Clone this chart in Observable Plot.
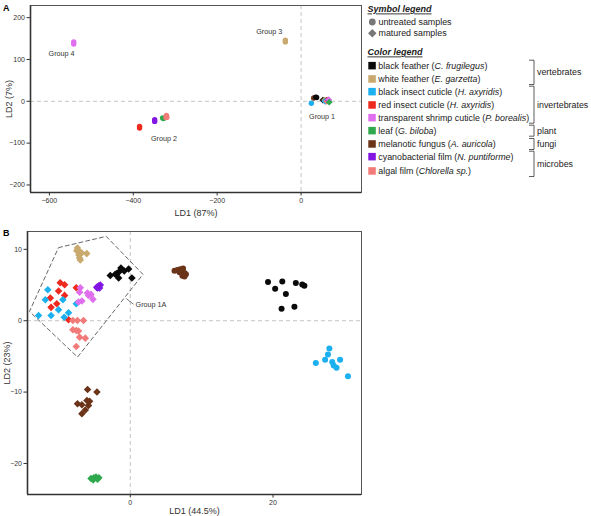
<!DOCTYPE html>
<html><head><meta charset="utf-8">
<script src="https://cdn.jsdelivr.net/npm/d3@7"></script>
<script src="https://cdn.jsdelivr.net/npm/@observablehq/plot@0.6"></script>
<style>
body{margin:0;background:#fff;font-family:"Liberation Sans",Arial,sans-serif;}
#wrap{position:relative;width:591px;height:516px;overflow:hidden;}
#wrap > svg{position:absolute;}
</style></head><body><div id="wrap"></div>
<script>
// ---------- categories ----------
const speciesNames = ["black feather","white feather","black insect cuticle","red insect cuticle",
  "transparent shrimp cuticle","leaf","melanotic fungus","cyanobacterial film","algal film"];
const speciesLatin = ["C. frugilegus","E. garzetta","H. axyridis","H. axyridis","P. borealis",
  "G. biloba","A. auricola","N. puntiforme","Chlorella sp."];
const speciesColors = ["#0a0a0a","#c9a96e","#1cb0ee","#ee2a1e","#df6fee","#2fa84e","#6b3418","#8316e2","#f27a78"];
const groupNames = ["vertebrates","invertebrates","plant","fungi","microbes"];
const groupFirst = [0,2,5,6,7];
const groupLast  = [1,4,5,6,8];
const treatments = ["untreated","matured"];
const treatmentLabels = ["untreated samples","matured samples"];

// ---------- panel A (LD1 87 %, LD2 7 %) ----------
const aSpecies = [
  "transparent shrimp cuticle","transparent shrimp cuticle",
  "white feather","white feather",
  "red insect cuticle","red insect cuticle",
  "cyanobacterial film","cyanobacterial film",
  "leaf","leaf",
  "algal film","algal film","algal film",
  "black insect cuticle","melanotic fungus","black feather","black feather",
  "black feather","white feather","white feather","melanotic fungus","red insect cuticle","black insect cuticle",
  "algal film","cyanobacterial film","transparent shrimp cuticle","leaf"];
const aTreat = [
  "untreated","untreated","untreated","untreated","untreated","untreated","untreated","untreated",
  "untreated","untreated","untreated","untreated","untreated",
  "untreated","untreated","untreated","untreated",
  "matured","matured","matured","matured","matured","matured","matured","matured","matured","matured"];
const aLD1 = [-542,-542, -37.5,-37.5, -385,-385, -349,-349, -330,-328, -321,-320,-322,
  24.5,30,35,37, 52,56,58,60,62,57,61,65,66,67];
const aLD2 = [137,142, 142,146, -60,-64, -44,-48, -40,-41, -34,-38,-39,
  -4.5,8,10,9, 3,3,1,2,3,0,0,3,4,-2];
const aGroupLabel = ["Group 4","Group 3","Group 2","Group 1"];
const aGroupX = [-571,-76,-327,50];
const aGroupY = [114,167,-89,-36];
const aXTicks = [-600,-400,-200,0];
const aYTicks = [-200,-100,0,100,200];
const aXDomain = [-645,144];
const aYDomain = [-218,229];

// ---------- panel B (LD1 44.5 %, LD2 23 %) ----------
const bSpecies = [
  ...Array(9).fill("black feather"),
  ...Array(9).fill("black insect cuticle"),
  ...Array(9).fill("melanotic fungus"),
  ...Array(8).fill("white feather"),
  ...Array(9).fill("black feather"),
  ...Array(6).fill("cyanobacterial film"),
  ...Array(9).fill("red insect cuticle"),
  ...Array(9).fill("black insect cuticle"),
  ...Array(8).fill("transparent shrimp cuticle"),
  ...Array(9).fill("algal film"),
  ...Array(9).fill("melanotic fungus"),
  ...Array(6).fill("leaf")];
const bTreat = [...Array(27).fill("untreated"), ...Array(73).fill("matured")];
const bLD1 = [
  19.3,21.3,23.2,24.1,24.4,20.3,21.8,21.2,23.0,
  27.9,27.7,27.3,26.0,28.3,28.5,28.9,29.4,30.5,
  6.2,6.6,7.0,7.4,7.6,7.8,7.3,6.9,7.6,
  -7.4,-7.0,-7.2,-6.8,-6.1,-7.1,-7.0,-7.5,
  -2.8,-1.87,-1.63,-1.31,-1.63,-0.84,-0.23,0.23,-2.1,
  -4.6,-4.4,-4.2,-4.5,-4.3,-4.7,
  -9.82,-9.2,-10.05,-9.2,-11.2,-10.3,-11.1,-7.57,-8.65,
  -11.55,-11.9,-9.44,-10.05,-11.1,-12.85,-9.26,-8.65,-7.57,
  -7.0,-6.0,-5.5,-5.84,-7.25,-6.78,-5.23,-7.1,
  -8.04,-7.4,-6.55,-8.04,-7.57,-7.25,-7.1,-6.3,-7.57,
  -5.98,-4.67,-6.07,-5.7,-7.39,-6.78,-5.85,-6.3,-6.78,
  -5.5,-5.1,-4.8,-4.4,-5.2,-4.6];
const bLD2 = [
  5.41,5.5,5.27,5.09,4.9,4.49,3.73,1.68,1.96,
  -3.88,-4.73,-5.47,-5.94,-5.8,-6.27,-6.6,-5.47,-7.77,
  7.0,7.1,7.2,7.3,6.7,6.5,6.3,6.8,6.2,
  10.2,9.6,9.2,9.5,9.4,8.8,8.5,9.8,
  6.35,6.6,6.8,7.4,6.0,6.96,7.25,5.98,6.5,
  4.6,4.9,5.0,4.8,4.6,4.7,
  5.33,5.05,4.15,3.55,3.17,2.38,1.87,4.63,0.14,
  4.35,2.94,2.94,1.54,0.74,0.74,0.5,1.12,2.38,
  4.63,3.87,3.69,3.55,2.61,2.75,2.99,4.0,
  0.04,0.04,0.04,-1.27,-1.36,-1.45,-2.3,-2.44,-3.6,
  -9.64,-10.0,-11.18,-11.27,-11.64,-11.79,-11.88,-12.5,-13.05,
  -22.1,-22.0,-21.9,-22.0,-22.3,-22.2];
const hullLD1 = [-10.06,-3.37,1.78,-7.39,-14.12];
const hullLD2 = [10.24,11.82,6.49,-5.1,1.3];
const leaderLD1 = [-0.56,0.46];
const leaderLD2 = [3.1,2.3];
const bLabel = ["Group 1A"];
const bLabelX = [0.75];
const bLabelY = [2.2];
const bXTicks = [0,20];
const bYTicks = [-20,-10,0,10];
const bXDomain = [-14.4,32.4];
const bYDomain = [-24.35,12.5];

const FONT = "'Liberation Sans', Arial, Helvetica, sans-serif";
const wrap = document.getElementById("wrap");

// square diamond (rotated square) symbol
const squareDiamond = {
  draw(context, size){
    const r = Math.sqrt(size/2);
    context.moveTo(0,-r); context.lineTo(r,0); context.lineTo(0,r); context.lineTo(-r,0); context.closePath();
  }
};

function panel(o){
  const idx = d3.range(o.ld1.length);
  return Plot.plot({
    width:o.width, height:o.height,
    marginTop:o.mt, marginBottom:o.mb, marginLeft:o.ml, marginRight:o.mr,
    x:{domain:o.xd}, y:{domain:o.yd},
    color:{domain:speciesNames, range:speciesColors},
    symbol:{domain:treatments, range:["circle", squareDiamond]},
    style:{fontFamily:FONT, background:"transparent", color:"#333", overflow:"visible"},
    marks:[
      Plot.ruleX([0],{stroke:"#c4c4c4", strokeDasharray:"4,3", strokeWidth:1}),
      Plot.ruleY([0],{stroke:"#c4c4c4", strokeDasharray:"4,3", strokeWidth:1}),
      ...(o.extra||[]),
      Plot.dot(idx,{x:i=>o.ld1[i], y:i=>o.ld2[i], fill:i=>o.sp[i], symbol:i=>o.tr[i], r:o.r, stroke:"none"}),
      Plot.text(d3.range(o.lab.length),{x:i=>o.labX[i], y:i=>o.labY[i], text:i=>o.lab[i],
        fontSize:7.2, fill:"#333", textAnchor:o.labAnchor||"middle"}),
      Plot.frame({stroke:"#555", strokeWidth:1}),
      Plot.ruleX([o.xd[0]],{stroke:"#333", strokeWidth:1.6}),
      Plot.ruleY([o.yd[0]],{stroke:"#333", strokeWidth:1.6}),
      Plot.axisX({ticks:o.xt, tickSize:3.5, tickPadding:2, fontSize:7, stroke:"#333", fill:"#333", label:null}),
      Plot.axisY({ticks:o.yt, tickSize:3.5, tickPadding:2, fontSize:7, stroke:"#333", fill:"#333", label:null}),
      Plot.axisX({ticks:[], tickSize:0, fontSize:9, fill:"#333", label:o.xl, labelAnchor:"center",
        labelArrow:"none", labelOffset:o.xlo}),
      Plot.axisY({ticks:[], tickSize:0, fontSize:9, fill:"#333", label:o.yl, labelAnchor:"center",
        labelArrow:"none", labelOffset:o.ylo})
    ]
  });
}

const pA = panel({width:365,height:225,mt:5,mb:33,ml:30,mr:4,xd:aXDomain,yd:aYDomain,
  ld1:aLD1,ld2:aLD2,sp:aSpecies,tr:aTreat,r:2.7,lab:aGroupLabel,labX:aGroupX,labY:aGroupY,
  xt:aXTicks,yt:aYTicks,xl:"LD1 (87%)",yl:"LD2 (7%)",xlo:23,ylo:24.5});
pA.style.left="0px"; pA.style.top="0px";
wrap.appendChild(pA);

const hullIdx = d3.range(hullLD1.length);
const pB = panel({width:365,height:290,mt:5,mb:22,ml:27,mr:4,xd:bXDomain,yd:bYDomain,
  ld1:bLD1,ld2:bLD2,sp:bSpecies,tr:bTreat,r:3,lab:bLabel,labX:bLabelX,labY:bLabelY,labAnchor:"start",
  xt:bXTicks,yt:bYTicks,xl:"LD1 (44.5%)",yl:"LD2 (23%)",xlo:19,ylo:23.5,
  extra:[
    Plot.line(hullIdx,{x:i=>hullLD1[i], y:i=>hullLD2[i], curve:"linear-closed", stroke:"#555",
      strokeDasharray:"4,3", strokeWidth:0.9}),
    Plot.link([0],{x1:()=>leaderLD1[0], y1:()=>leaderLD2[0], x2:()=>leaderLD1[1], y2:()=>leaderLD2[1],
      stroke:"#555", strokeWidth:0.8})
  ]});
pB.style.left="0px"; pB.style.top="226px";
wrap.appendChild(pB);

// panel letters
const letters = d3.select(wrap).append("svg").attr("width",20).attr("height",516)
  .style("left","0px").style("top","0px");
letters.append("text").attr("x",3).attr("y",11).text("A")
  .attr("font-family",FONT).attr("font-weight","bold").attr("font-size",9);
letters.append("text").attr("x",3).attr("y",236).text("B")
  .attr("font-family",FONT).attr("font-weight","bold").attr("font-size",9);

// legend
const L = d3.select(wrap).append("svg").attr("width",231).attr("height",190)
  .style("left","360px").style("top","0px")
  .attr("font-family",FONT).attr("fill","#222");
function header(y,t){
  L.append("text").attr("x",7.5).attr("y",y).attr("dy","0.35em").text(t)
    .attr("font-size",9).attr("font-weight","bold").attr("font-style","italic")
    .attr("text-decoration","underline");
}
header(9.3,"Symbol legend");
const symY = [22,33.3];
treatmentLabels.forEach((t,i)=>{
  const sym = i===0 ? d3.symbolCircle : squareDiamond;
  L.append("path").attr("d",d3.symbol(sym, 36)()).attr("transform",`translate(12.3,${symY[i]})`).attr("fill","#777");
  L.append("text").attr("x",18.5).attr("y",symY[i]).attr("dy","0.35em").attr("font-size",8.9).text(t);
});
header(52.3,"Color legend");
const rowY = [65.7,79,91.7,105,117.7,130.7,144,156.7,171];
speciesNames.forEach((s,i)=>{
  L.append("rect").attr("x",8.3).attr("y",rowY[i]-3.8).attr("width",7.5).attr("height",7.5).attr("fill",speciesColors[i]);
  const t = L.append("text").attr("x",18.3).attr("y",rowY[i]).attr("dy","0.35em").attr("font-size",8.9);
  t.append("tspan").text(s+" (");
  t.append("tspan").attr("font-style","italic").text(speciesLatin[i]);
  t.append("tspan").text(")");
});
groupNames.forEach((g,k)=>{
  const y1 = rowY[groupFirst[k]]-5.5, y2 = rowY[groupLast[k]]+5.5;
  L.append("path").attr("d",`M169,${y1}H174V${y2}H169`).attr("fill","none").attr("stroke","#333").attr("stroke-width",0.8);
  L.append("text").attr("x",177).attr("y",(y1+y2)/2).attr("dy","0.35em").attr("font-size",8.9).text(g);
});
</script></body></html>
